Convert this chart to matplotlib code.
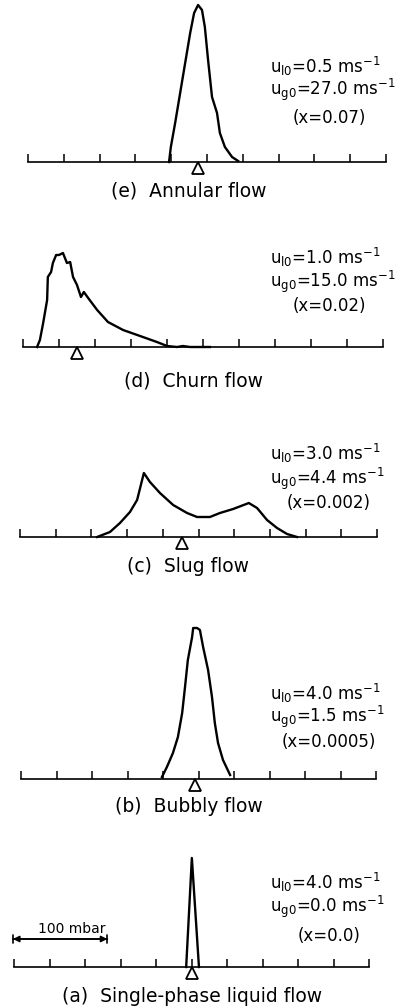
import matplotlib
matplotlib.use("Agg")
import matplotlib.pyplot as plt

W, H = 404, 1008

# ---- data (x in scale divisions, height in arbitrary p.d.f. units) ----
x_e = [3.94, 3.99, 4.11, 4.25, 4.39, 4.53, 4.64, 4.75, 4.86, 4.94, 5.03, 5.14, 5.28, 5.36, 5.50, 5.70, 5.87]
h_e = [0, 15, 39, 69, 99, 129, 149, 157, 152, 135, 102, 65, 49, 29, 15, 5, 1]

x_d = [0.39, 0.47, 0.56, 0.67, 0.69, 0.78, 0.83, 0.92, 1.00, 1.11, 1.22, 1.31, 1.39, 1.50,
       1.61, 1.69, 1.81, 2.06, 2.36, 2.78, 3.33, 3.72, 4.00, 4.28, 4.44, 4.64, 5.19]
h_d = [0, 7, 24, 47, 70, 75, 84, 92, 92, 94, 84, 85, 70, 62, 50, 55, 49, 37, 25, 17, 10, 5, 1, 0, 1, 0, 0]

x_c = [2.16, 2.52, 2.80, 3.08, 3.28, 3.47, 3.64, 3.92, 4.29, 4.68, 4.96, 5.32, 5.60, 5.97,
       6.41, 6.64, 6.92, 7.20, 7.48, 7.76]
h_c = [0, 5, 14, 25, 37, 64, 55, 44, 32, 24, 20, 20, 24, 28, 34, 29, 17, 9, 3, 0]

x_b = [3.97, 4.11, 4.28, 4.42, 4.54, 4.62, 4.70, 4.82, 4.85, 4.96, 5.04, 5.13, 5.27, 5.38,
       5.46, 5.55, 5.69, 5.89]
h_b = [2, 12, 26, 42, 66, 92, 119, 142, 151, 151, 149, 132, 109, 82, 56, 36, 19, 4]

x_a = [4.85, 5.01, 5.21]
h_a = [0, 109, 0]

means = {"e": 4.75, "d": 1.50, "c": 4.54, "b": 4.90, "a": 5.01}

captions = {
    "e": "(e)  Annular flow",
    "d": "(d)  Churn flow",
    "c": "(c)  Slug flow",
    "b": "(b)  Bubbly flow",
    "a": "(a)  Single-phase liquid flow",
}
ul0 = {"e": "0.5", "d": "1.0", "c": "3.0", "b": "4.0", "a": "4.0"}
ug0 = {"e": "27.0", "d": "15.0", "c": "4.4", "b": "1.5", "a": "0.0"}
quality = {"e": "0.07", "d": "0.02", "c": "0.002", "b": "0.0005", "a": "0.0"}

ticks = list(range(0, 11))
scale_bar_mbar = 100
scale_bar_divs = 2.66

# ---- layout (pixels) ----
layout = {
    # x0, x1, baseline, text offsets (3 lines), caption y, caption x
    "e": (28, 386, 162, (-96, -72, -44), 191, 189),
    "d": (23, 383, 347, (-90, -65, -41), 381, 194),
    "c": (20, 377, 537, (-84, -58, -34), 566, 188),
    "b": (21, 376, 779, (-86, -62, -37), 806, 189),
    "a": (14, 369, 967, (-85, -60, -31), 997, 192),
}
curves = {"e": (x_e, h_e), "d": (x_d, h_d), "c": (x_c, h_c), "b": (x_b, h_b), "a": (x_a, h_a)}

fig = plt.figure(figsize=(W / 100, H / 100), dpi=100)
fig.patch.set_facecolor("white")

BELOW, ABOVE = 40, 165
for key in ["e", "d", "c", "b", "a"]:
    x0, x1, base, toffs, cap_y, cap_x = layout[key]
    ax = fig.add_axes([x0 / W, (H - (base + BELOW)) / H, (x1 - x0) / W, (BELOW + ABOVE) / H])
    ax.set_xlim(0, 10)
    ax.set_ylim(-BELOW, ABOVE)
    ax.patch.set_visible(False)
    for s in ["top", "left", "right"]:
        ax.spines[s].set_visible(False)
    ax.spines["bottom"].set_position(("data", 0))
    ax.spines["bottom"].set_linewidth(1.2)
    ax.set_xticks(ticks)
    ax.set_xticklabels([])
    ax.tick_params(axis="x", direction="in", length=5.5, width=1.1)
    ax.set_yticks([])

    xs, hs = curves[key]
    ax.plot(xs, hs, color="black", lw=1.7, solid_joinstyle="round", clip_on=False)
    ax.plot([means[key]], [-6], marker="^", markersize=9, markerfacecolor="white",
            markeredgecolor="black", markeredgewidth=1.3, clip_on=False)

    # annotation text
    tx = 270 / W
    fig.text(tx, 1 - (base + toffs[0]) / H, r"u$_{\mathrm{l0}}$=" + ul0[key] + r" ms$^{-1}$",
             fontsize=12, ha="left", va="center")
    fig.text(tx, 1 - (base + toffs[1]) / H, r"u$_{\mathrm{g0}}$=" + ug0[key] + r" ms$^{-1}$",
             fontsize=12, ha="left", va="center")
    fig.text(329 / W, 1 - (base + toffs[2]) / H, "(x=" + quality[key] + ")",
             fontsize=12, ha="center", va="center")
    fig.text(cap_x / W, 1 - cap_y / H, captions[key], fontsize=13.5, ha="center", va="center")

    if key == "a":
        ya = 28
        ax.annotate("", xy=(-0.03 + scale_bar_divs, ya), xytext=(-0.03, ya),
                    arrowprops=dict(arrowstyle="<|-|>", color="black", lw=1.2,
                                    mutation_scale=9, shrinkA=0, shrinkB=0),
                    annotation_clip=False)
        ax.annotate("", xy=(-0.03 + scale_bar_divs, ya), xytext=(-0.03, ya),
                    arrowprops=dict(arrowstyle="|-|, widthA=0.3, widthB=0.3", color="black",
                                    lw=1.2, shrinkA=0, shrinkB=0),
                    annotation_clip=False)
        ax.text(-0.03 + scale_bar_divs / 2 + 0.32, ya + 10, f"{scale_bar_mbar} mbar",
                fontsize=10, ha="center", va="center")

fig.savefig("out.png", dpi=100, facecolor="white")
